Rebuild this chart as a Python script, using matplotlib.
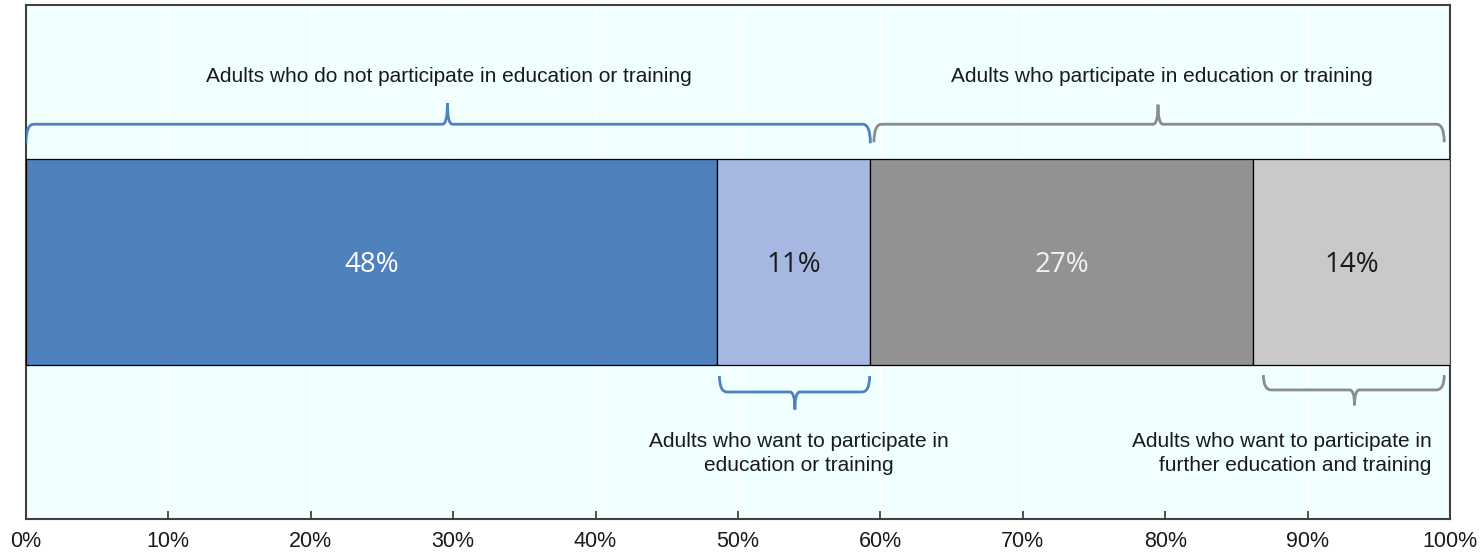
import numpy as np
import matplotlib.pyplot as plt
from matplotlib.path import Path
from matplotlib.patches import PathPatch

# Data
segments = ["Not participating, not wanting", "Not participating, wanting",
            "Participating, not wanting more", "Participating, wanting more"]
shares = [48.5, 10.8, 26.9, 13.8]
share_labels = ["48%", "11%", "27%", "14%"]
colors = ["#4f81bd", "#a6b7e1", "#929292", "#c9c9c9"]
label_colors = ["white", "#1a1a1a", "#f2f2f2", "#1a1a1a"]
xticks = np.arange(0, 101, 10)
xtick_labels = [f"{t}%" for t in xticks]

blue = "#5080c0"
grey = "#8c8c8c"

fig = plt.figure(figsize=(14.83, 5.55), dpi=100)
ax = fig.add_axes([0.0175, 0.065, 0.9602, 0.926])
ax.set_facecolor("#f0ffff")

# stacked bar
left = 0
for val, col, lab, lc in zip(shares, colors, share_labels, label_colors):
    ax.barh(0.5, val, left=left, height=0.4, color=col, edgecolor="black", linewidth=0.9, zorder=3)
    ax.text(left + val / 2, 0.494, lab, ha="center", va="center", color=lc,
            fontsize=20, family="Open Sans", zorder=4)
    left += val
cum = np.cumsum(shares)


def brace(x0, x1, xt, ybase, yend, ytip, color, dx=0.55, dt=0.35):
    verts = [(x0, yend), (x0, ybase), (x0 + dx, ybase),
             (xt - dt, ybase),
             (xt, ybase), (xt, ytip),
             (xt, ybase), (xt + dt, ybase),
             (x1 - dx, ybase),
             (x1, ybase), (x1, yend)]
    codes = [Path.MOVETO, Path.CURVE3, Path.CURVE3,
             Path.LINETO,
             Path.CURVE3, Path.CURVE3,
             Path.CURVE3, Path.CURVE3,
             Path.LINETO,
             Path.CURVE3, Path.CURVE3]
    ax.add_patch(PathPatch(Path(verts, codes), fill=False, edgecolor=color, lw=2, zorder=3))


# top braces
brace(0.0, cum[1], 29.6, 0.768, 0.731, 0.809, blue)
brace(cum[1] + 0.25, 99.6, 79.5, 0.768, 0.733, 0.806, grey)
# bottom braces
brace(cum[0] + 0.2, cum[1] - 0.05, 54.0, 0.247, 0.278, 0.213, blue)
brace(cum[2] + 0.7, 99.6, 93.3, 0.251, 0.280, 0.221, grey)

tf = dict(fontsize=15, family="Liberation Sans", color="#1a1a1a", zorder=4)
ax.text(29.7, 0.86, "Adults who do not participate in education or training", ha="center", va="center", **tf)
ax.text(79.8, 0.86, "Adults who participate in education or training", ha="center", va="center", **tf)
ax.text(54.3, 0.127, "Adults who want to participate in\neducation or training",
        ha="center", va="center", multialignment="center", linespacing=1.32, **tf)
ax.text(98.7, 0.127, "Adults who want to participate in\nfurther education and training",
        ha="right", va="center", multialignment="right", linespacing=1.32, **tf)

ax.set_xlim(0, 100)
ax.set_ylim(0, 1)
ax.set_yticks([])
ax.set_xticks(xticks)
ax.set_xticklabels(xtick_labels, fontsize=15.5, family="Liberation Sans", color="#1a1a1a")
ax.tick_params(axis="x", direction="in", length=6, width=1.2, color="#333333", pad=9)
for x in xticks[1:-1]:
    ax.axvline(x, color="white", lw=1.0, zorder=1)
for s in ax.spines.values():
    s.set_color("#404040")
    s.set_linewidth(1.5)

fig.savefig("out.png", dpi=100)
